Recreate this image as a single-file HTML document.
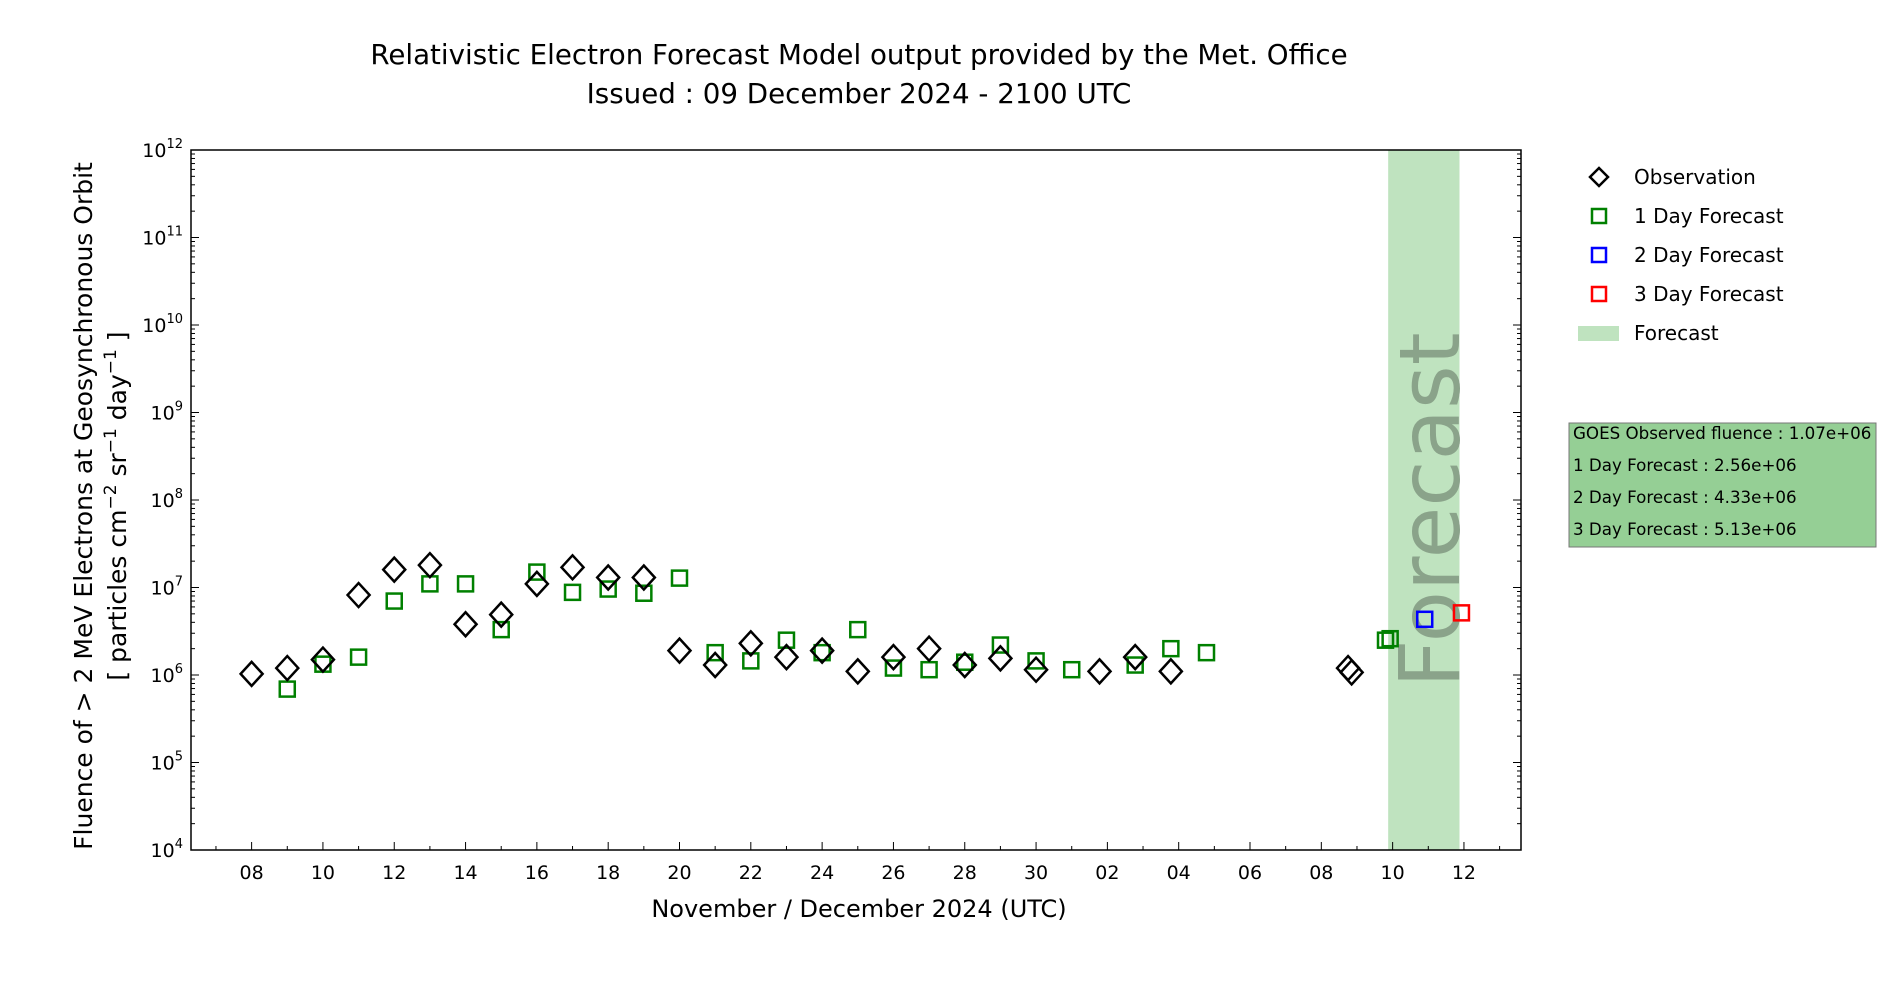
<!DOCTYPE html>
<html><head><meta charset="utf-8"><style>
body{margin:0;background:#fff;width:1900px;height:1000px;overflow:hidden}
svg text{font-family:"DejaVu Sans","Liberation Sans",sans-serif}
</style></head><body>
<svg id="chart" width="1900" height="1000" xmlns="http://www.w3.org/2000/svg">
<text x="859" y="64" font-size="27.7" text-anchor="middle">Relativistic Electron Forecast Model output provided by the Met. Office</text>
<text x="859" y="103" font-size="27.7" text-anchor="middle">Issued : 09 December 2024 - 2100 UTC</text>
<g id="plot"></g>
<text x="859" y="917" font-size="24" text-anchor="middle">November / December 2024 (UTC)</text>
<text transform="translate(92,506) rotate(-90)" font-size="25" text-anchor="middle">Fluence of &gt; 2 MeV Electrons at Geosynchronous Orbit</text>
<text transform="translate(126,506) rotate(-90)" font-size="25" text-anchor="middle">[ particles cm<tspan font-size="17" dy="-10">−2</tspan><tspan dy="10"> sr</tspan><tspan font-size="17" dy="-10">−1</tspan><tspan dy="10"> day</tspan><tspan font-size="17" dy="-10">−1</tspan><tspan dy="10"> ]</tspan></text>
<g>
<path d="M1599,168L1608,177L1599,186L1590,177Z" fill="none" stroke="#000" stroke-width="2.5"/>
<text x="1634" y="184" font-size="20">Observation</text>
<rect x="1592" y="209" width="14" height="14" fill="none" stroke="green" stroke-width="2.5"/>
<text x="1634" y="223" font-size="20">1 Day Forecast</text>
<rect x="1592" y="248" width="14" height="14" fill="none" stroke="blue" stroke-width="2.5"/>
<text x="1634" y="262" font-size="20">2 Day Forecast</text>
<rect x="1592" y="287" width="14" height="14" fill="none" stroke="red" stroke-width="2.5"/>
<text x="1634" y="301" font-size="20">3 Day Forecast</text>
<rect x="1578" y="326" width="41" height="15" fill="#bfe3bf"/>
<text x="1634" y="340" font-size="20">Forecast</text>
</g>
<g>
<rect x="1569" y="423" width="307" height="124" fill="#95cf95" stroke="#777" stroke-width="1"/>
<text x="1573" y="439" font-size="16.7">GOES Observed fluence : 1.07e+06</text>
<text x="1573" y="471" font-size="16.7">1 Day Forecast : 2.56e+06</text>
<text x="1573" y="503" font-size="16.7">2 Day Forecast : 4.33e+06</text>
<text x="1573" y="535" font-size="16.7">3 Day Forecast : 5.13e+06</text>
</g>
</svg>
<script>
// days counted from 1 Nov 2024 (Dec 1 = 31)
const obsDays=[8,9,10,11,12,13,14,15,16,17,18,19,20,21,22,23,24,25,26,27,28,29,30,31.78,32.78,33.78,38.75,38.85];
const obsVals=[1.03e6,1.2e6,1.5e6,8.2e6,1.6e7,1.8e7,3.8e6,4.9e6,1.1e7,1.7e7,1.3e7,1.3e7,1.9e6,1.3e6,2.3e6,1.6e6,1.9e6,1.1e6,1.6e6,2.0e6,1.3e6,1.55e6,1.15e6,1.1e6,1.6e6,1.1e6,1.2e6,1.07e6];
const f1Days=[9,10,11,12,13,14,15,16,17,18,19,20,21,22,23,24,25,26,27,28,29,30,31,32.78,33.78,34.78,39.8,39.93];
const f1Vals=[6.9e5,1.33e6,1.6e6,7e6,1.1e7,1.1e7,3.3e6,1.5e7,8.8e6,9.6e6,8.6e6,1.28e7,1.8e6,1.45e6,2.5e6,1.8e6,3.3e6,1.2e6,1.15e6,1.4e6,2.2e6,1.45e6,1.15e6,1.3e6,2.0e6,1.8e6,2.5e6,2.6e6];
const f2Days=[40.9];
const f2Vals=[4.33e6];
const f3Days=[41.93];
const f3Vals=[5.13e6];
const forecastSpan=[39.875,41.875];
const xTickDays=[8,10,12,14,16,18,20,22,24,26,28,30,32,34,36,38,40,42];
const xTickLabels=["08","10","12","14","16","18","20","22","24","26","28","30","02","04","06","08","10","12"];
const yDecades=[4,5,6,7,8,9,10,11,12];

const L=191,R=1521,T=150,B=850,X0=6.3,X1=43.6;
const sx=d=>L+(d-X0)/(X1-X0)*(R-L);
const sy=v=>B-(Math.log10(v)-4)/8*(B-T);
const NS="http://www.w3.org/2000/svg";
const g=document.getElementById('plot');
function mk(t,a,p){const e=document.createElementNS(NS,t);for(const k in a)e.setAttribute(k,a[k]);(p||g).appendChild(e);return e;}

const band=mk('rect',{x:sx(forecastSpan[0]),y:T,width:sx(forecastSpan[1])-sx(forecastSpan[0]),height:B-T,fill:'#bfe3bf'});


const bt=mk('text',{transform:`translate(${(sx(forecastSpan[0])+sx(forecastSpan[1]))/2+35},${510}) rotate(-90)`,'font-size':'84','text-anchor':'middle',fill:'#8aa38a'});
bt.textContent='Forecast';



yDecades.forEach((d,i)=>{
  const y=sy(Math.pow(10,d));
  mk('line',{x1:L,x2:L+8,y1:y,y2:y,stroke:'#000'});
  mk('line',{x1:R,x2:R-8,y1:y,y2:y,stroke:'#000'});
  const t=mk('text',{x:L-8,y:y+7,'font-size':'19','text-anchor':'end'});
  t.innerHTML='10<tspan font-size="13" dy="-9">'+d+'</tspan>';
  
  
  if(i<yDecades.length-1)for(let m=2;m<10;m++){const yy=sy(m*Math.pow(10,d));
    mk('line',{x1:L,x2:L+4,y1:yy,y2:yy,stroke:'#000'});mk('line',{x1:R,x2:R-4,y1:yy,y2:yy,stroke:'#000'});}
});
for(let d=7;d<=43;d++){const x=sx(d);mk('line',{x1:x,x2:x,y1:B,y2:B-(d%2==0?8:4),stroke:'#000'});}
xTickDays.forEach((d,i)=>{const t=mk('text',{x:sx(d),y:B+29,'font-size':'19','text-anchor':'middle'});t.textContent=xTickLabels[i];
  
  });

mk('rect',{x:L,y:T,width:R-L,height:B-T,fill:'none',stroke:'#000','stroke-width':1.5});

function squares(days,vals,col,name){days.forEach((d,i)=>{const x=sx(d),y=sy(vals[i]);
  const r=mk('rect',{x:x-7.5,y:y-7.5,width:15,height:15,fill:'none',stroke:col,'stroke-width':2.5});
  
  });}
squares(f1Days,f1Vals,'green','forecast-1day-point');
squares(f2Days,f2Vals,'blue','forecast-2day-point');
squares(f3Days,f3Vals,'red','forecast-3day-point');
obsDays.forEach((d,i)=>{const x=sx(d),y=sy(obsVals[i]);
  const p=mk('path',{d:`M${x},${y-12}L${x+11},${y}L${x},${y+12}L${x-11},${y}Z`,fill:'none',stroke:'#000','stroke-width':2.5});
  
  });
</script>
</body></html>
